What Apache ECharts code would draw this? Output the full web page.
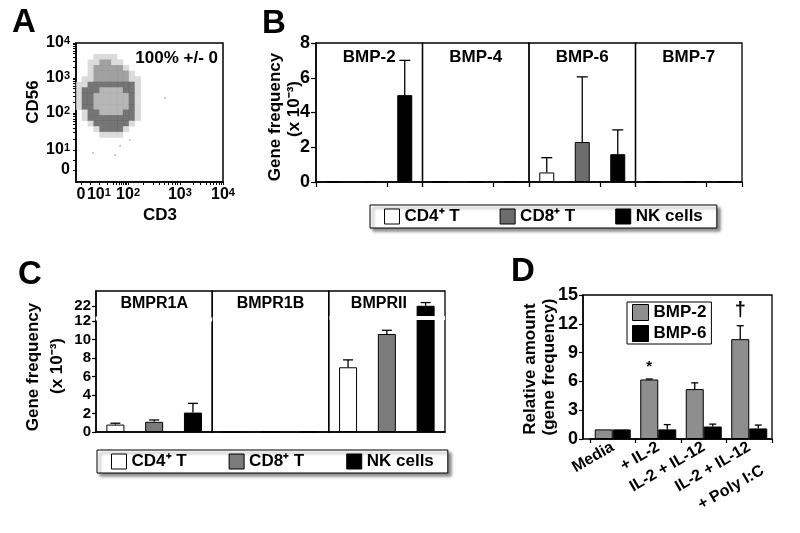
<!DOCTYPE html>
<html><head><meta charset="utf-8">
<script src="https://cdn.jsdelivr.net/npm/echarts@6/dist/echarts.min.js"></script>
<style>html,body{margin:0;padding:0;background:#fff}#c{width:800px;height:533px}</style>
</head><body><div id="c"></div>
<script>
// ================= DATA =================
// Panel A (flow cytometry density, read as coarse cells in axis units 0..100)
const aAxisLabels = ['0', '10{s|1}', '10{s|2}', '10{s|3}', '10{s|4}'];
const aXLabelPos = [3.4, 15.6, 35.4, 70.7, 100];
const aYLabelPos = [8.6, 23.0, 49.6, 74.8, 100];
const aCellX = [2, 6, 10, 14, 18, 22, 26, 30, 34, 38, 42, 46];
const aCellY = [90, 86, 82, 78, 74, 70, 66, 62, 58, 54, 50, 46, 42, 38, 34];
const aDensityRows = [
  '...1111.....',
  '..114411....',
  '..1444441...',
  '..14444441..',
  '.1144444411.',
  '11222222221.',
  '12223333221.',
  '12233333321.',
  '12233333321.',
  '12233333321.',
  '.1223333221.',
  '.1222222221.',
  '..12222221..',
  '...122221...',
  '....1111....'
];
const aOutliers = [[11.6, 20.9], [26.5, 19.4], [36.7, 30.2], [60.5, 60.4], [30, 26]];
const aGateText = '100% +/- 0';

// Panel B
const cellTypes = ['CD4⁺ T', 'CD8⁺ T', 'NK cells'];
const bGenes = ['BMP-2', 'BMP-4', 'BMP-6', 'BMP-7'];
const bCD4 = [0.03, 0.01, 0.55, 0.02];
const bCD8 = [0.04, 0.01, 2.3, 0.03];
const bNK = [5.0, 0.01, 1.6, 0.02];
const bCD4Err = [null, null, 1.4, null];
const bCD8Err = [null, null, 6.05, null];
const bNKErr = [7.0, null, 3.0, null];

// Panel C
const cGenes = ['BMPR1A', 'BMPR1B', 'BMPRII'];
const cCD4 = [0.8, 0.0, 7.0];
const cCD8 = [1.1, 0.03, 10.6];
const cNK = [2.1, 0.03, 22.0];
const cCD4Err = [0.95, null, 7.8];
const cCD8Err = [1.3, null, 11.0];
const cNKErr = [3.1, null, 22.35];
const cYLabels = [0, 2, 4, 6, 8, 10, 12, 22];
const cBreak = {start: 12.1, end: 20.9};

// Panel D
const dConditions = ['Media', '+ IL-2', 'IL-2 + IL-12', 'IL-2 + IL-12\n+ Poly I:C'];
const dSeriesNames = ['BMP-2', 'BMP-6'];
const dBMP2 = [1.0, 6.2, 5.2, 10.4];
const dBMP6 = [1.0, 1.0, 1.3, 1.1];
const dBMP2Err = [null, 6.25, 5.85, 11.8];
const dBMP6Err = [null, 1.5, 1.55, 1.45];
const dMarks = ['', '*', '', '†'];

// ================= STYLE / LAYOUT =================
const FONT = '"Liberation Sans", Arial, Helvetica, sans-serif';
const L = {
  A: {left: 76, top: 43, width: 147, height: 139},
  B: {left: 316, top: 43, width: 426, height: 139},
  C: {left: 96, top: 291, width: 349, height: 141},
  D: {left: 590, top: 295, width: 182, height: 144, frameLeft: 583}
};
const aLevelColors = {1: '#d2d2d2', 2: '#525252', 3: '#a4a4a4', 4: '#8a8a8a'};
const bColors = ['#ffffff', '#6d6d6d', '#000000'];
const cColors = ['#ffffff', '#7b7b7b', '#000000'];
const dColors = ['#8e8e8e', '#000000'];

const grids = [], xAxes = [], yAxes = [], series = [], graphics = [], legends = [];
const lab = (size) => ({fontFamily: FONT, fontWeight: 'bold', fontSize: size, color: '#000'});
const supRich = {s: {fontFamily: FONT, fontWeight: 'bold', fontSize: 11, color: '#000', verticalAlign: 'top', lineHeight: 12}};
function txt(x, y, text, size, rot, align) {
  return {type: 'text', x, y, rotation: rot || 0, z: 100, silent: true,
    style: {text, fill: '#000', font: 'bold ' + size + 'px ' + FONT,
      textAlign: align || 'center', textVerticalAlign: 'middle'}};
}
function errSeries(xi, yi, vals, errs, shift, cap, marks) {
  const data = [];
  vals.forEach((v, i) => { if (errs[i] != null || (marks && marks[i])) data.push([i, v, errs[i] != null ? errs[i] : v, i]); });
  return {type: 'custom', xAxisIndex: xi, yAxisIndex: yi, data, z: 6, silent: true,
    encode: {x: 0, y: [1, 2]},
    renderItem(params, api) {
      const p0 = api.coord([api.value(0), api.value(1)]);
      const p1 = api.coord([api.value(0), api.value(2)]);
      const x = p0[0] + shift;
      const children = [];
      if (errs[api.value(3)] != null) {
        children.push({type: 'line', shape: {x1: x, y1: p0[1], x2: x, y2: p1[1]}, style: {stroke: '#000', lineWidth: 1.3}});
        children.push({type: 'line', shape: {x1: x - cap / 2, y1: p1[1], x2: x + cap / 2, y2: p1[1]}, style: {stroke: '#000', lineWidth: 1.3}});
      }
      const m = marks ? marks[api.value(3)] : '';
      if (m) {
        children.push({type: 'text', x: x, y: p1[1] - 5, style: {text: m, fill: '#000', font: 'bold ' + (m === '*' ? 15 : 20) + 'px ' + FONT, textAlign: 'center', textVerticalAlign: 'bottom'}});
      }
      return {type: 'group', children};
    }};
}
function logTicks(majors) {
  const t = majors.slice();
  t.push((majors[0] + majors[1]) / 2);
  for (let d = 1; d < majors.length - 1; d++) {
    for (let k = 2; k <= 9; k++) t.push(majors[d] + (majors[d + 1] - majors[d]) * Math.log10(k));
  }
  return t.sort((a, b) => a - b);
}
function nearestLabel(positions, v) {
  let bi = 0;
  positions.forEach((p, i) => { if (Math.abs(p - v) < Math.abs(positions[bi] - v)) bi = i; });
  return aAxisLabels[bi];
}

// ================= PANEL A =================
grids.push({left: L.A.left, top: L.A.top, width: L.A.width, height: L.A.height, show: true, borderColor: '#000', borderWidth: 1.5});
let gi0 = grids.length - 1;
xAxes.push({gridIndex: gi0, type: 'value', min: 0, max: 100, splitLine: {show: false},
  axisLine: {show: true, lineStyle: {color: '#000', width: 1.5}},
  axisTick: {show: true, customValues: logTicks(aXLabelPos), length: 3, lineStyle: {color: '#000', width: 1}},
  axisLabel: Object.assign({customValues: aXLabelPos, margin: 5, hideOverlap: false, rich: supRich, formatter: v => nearestLabel(aXLabelPos, v)}, lab(16))});
yAxes.push({gridIndex: gi0, type: 'value', min: 0, max: 100, splitLine: {show: false},
  axisLine: {show: true, lineStyle: {color: '#000', width: 1.5}},
  axisTick: {show: true, customValues: logTicks(aYLabelPos), length: 3, lineStyle: {color: '#000', width: 1}},
  axisLabel: Object.assign({customValues: aYLabelPos, margin: 6, hideOverlap: false, rich: supRich, formatter: v => nearestLabel(aYLabelPos, v)}, lab(16))});
const aCells = [];
aDensityRows.forEach((row, r) => {
  for (let c = 0; c < row.length; c++) {
    const ch = row[c];
    if (ch !== '.' && ch !== ' ') aCells.push([aCellX[c], aCellY[r], +ch]);
  }
});
series.push({type: 'scatter', xAxisIndex: xAxes.length - 1, yAxisIndex: yAxes.length - 1, data: aCells,
  symbol: 'rect', symbolSize: [6.2, 5.9], silent: true,
  itemStyle: {color: p => aLevelColors[p.data[2]]}});
series.push({type: 'scatter', xAxisIndex: xAxes.length - 1, yAxisIndex: yAxes.length - 1, data: aOutliers,
  symbol: 'circle', symbolSize: 2, silent: true, itemStyle: {color: '#aaaaaa'}});
graphics.push(txt(218, 58, aGateText, 17, 0, 'right'));
graphics.push(txt(24, 23, 'A', 33));
graphics.push(txt(33, 102, 'CD56', 17, Math.PI / 2));
graphics.push(txt(160, 215, 'CD3', 17));

// ================= PANEL B =================
const bW = L.B.width / bGenes.length;
bGenes.forEach((gene, gi) => {
  grids.push({left: L.B.left + gi * bW, top: L.B.top, width: bW, height: L.B.height, show: true, borderColor: '#000', borderWidth: 1.3});
  const g = grids.length - 1;
  xAxes.push({gridIndex: g, type: 'category', data: cellTypes, axisLabel: {show: false},
    axisTick: {show: true, length: 5, lineStyle: {color: '#000', width: 1.2}},
    axisLine: {show: true, lineStyle: {color: '#000', width: 1.5}}});
  yAxes.push({gridIndex: g, type: 'value', min: 0, max: 8, interval: 2, show: gi === 0, splitLine: {show: false},
    axisLine: {show: true, lineStyle: {color: '#000', width: 1.5}},
    axisTick: {show: true, length: 5, lineStyle: {color: '#000', width: 1.2}},
    axisLabel: Object.assign({margin: 6}, lab(18))});
  const xi = xAxes.length - 1, yi = yAxes.length - 1;
  const vals = [bCD4[gi], bCD8[gi], bNK[gi]];
  const errs = [bCD4Err[gi], bCD8Err[gi], bNKErr[gi]];
  cellTypes.forEach((ct, k) => {
    series.push({type: 'bar', name: ct, xAxisIndex: xi, yAxisIndex: yi, barWidth: 15, barGap: '-100%', silent: true,
      data: cellTypes.map((_, j) => j === k ? vals[k] : '-'),
      itemStyle: {color: bColors[k], borderColor: '#000', borderWidth: 1}});
  });
  series.push(errSeries(xi, yi, vals, errs, 0, 11));
  graphics.push(txt(L.B.left + (gi + 0.5) * bW, 57, gene, 17));
});
graphics.push(txt(274, 24, 'B', 33));
graphics.push(txt(275, 117, 'Gene frequency', 17, Math.PI / 2));
graphics.push(txt(294, 109, '(x 10⁻³)', 17, Math.PI / 2));
legends.push({left: 370, top: 205, orient: 'horizontal', icon: 'rect', itemWidth: 15, itemHeight: 15, itemGap: 40,
  padding: [3, 14, 3, 14], borderColor: '#000', borderWidth: 1, backgroundColor: '#fff',
  shadowColor: 'rgba(0,0,0,0.45)', shadowBlur: 3, shadowOffsetX: 3, shadowOffsetY: 3,
  textStyle: lab(17), selectedMode: false,
  data: cellTypes.map((n, k) => ({name: n, itemStyle: {color: bColors[k], borderColor: '#000', borderWidth: 1}}))});

// ================= PANEL C =================
const cW = L.C.width / cGenes.length;
cGenes.forEach((gene, gi) => {
  grids.push({left: L.C.left + gi * cW, top: L.C.top, width: cW, height: L.C.height, show: true, borderColor: '#000', borderWidth: 1.3});
  const g = grids.length - 1;
  xAxes.push({gridIndex: g, type: 'category', data: cellTypes, axisLabel: {show: false}, axisTick: {show: false},
    axisLine: {show: true, lineStyle: {color: '#000', width: 1.5}}});
  yAxes.push({gridIndex: g, type: 'value', min: 0, max: 23.6, show: gi === 0, splitLine: {show: false},
    breaks: [{start: cBreak.start, end: cBreak.end, gap: 0.45}],
    breakArea: {show: gi === 0, expandOnClick: false, zigzagAmplitude: 2,
      itemStyle: {color: '#fff', borderColor: '#fff', borderWidth: 0, opacity: 1}},
    breakLabelLayout: {moveOverlap: false},
    axisLine: {show: true, lineStyle: {color: '#000', width: 1.5}},
    axisTick: {show: true, customValues: cYLabels, length: 4, lineStyle: {color: '#000', width: 1.2}},
    axisLabel: Object.assign({customValues: cYLabels, margin: 5, hideOverlap: false, lineHeight: 14}, lab(15))});
  const xi = xAxes.length - 1, yi = yAxes.length - 1;
  const vals = [cCD4[gi], cCD8[gi], cNK[gi]];
  const errs = [cCD4Err[gi], cCD8Err[gi], cNKErr[gi]];
  cellTypes.forEach((ct, k) => {
    const s = {type: 'bar', name: ct, xAxisIndex: xi, yAxisIndex: yi, barWidth: 18, barGap: '-100%', silent: true,
      data: cellTypes.map((_, j) => j === k ? vals[k] : '-'),
      itemStyle: {color: cColors[k], borderColor: '#000', borderWidth: 1}};
    if (k === 2 && vals[k] > cBreak.end) {
      s.markArea = {silent: true, z: 10, itemStyle: {color: '#fff', opacity: 1},
        data: [[{yAxis: cBreak.start}, {yAxis: cBreak.end}]]};
    }
    series.push(s);
  });
  series.push(errSeries(xi, yi, vals, errs, 0, 10));
  graphics.push(txt(L.C.left + (gi + 0.5) * cW - (gi === 2 ? 8 : 0), 304, gene, 16));
  if (gi > 0) graphics.push({type: 'line', z: 100, silent: true,
    shape: {x1: L.C.left + gi * cW, y1: L.C.top, x2: L.C.left + gi * cW, y2: L.C.top + L.C.height},
    style: {stroke: '#000', lineWidth: 1.3}});
});
graphics.push(txt(30, 275, 'C', 33));
graphics.push(txt(33, 367, 'Gene frequency', 17, Math.PI / 2));
graphics.push(txt(57, 366, '(x 10⁻³)', 17, Math.PI / 2));
legends.push({left: 97, top: 450, orient: 'horizontal', icon: 'rect', itemWidth: 15, itemHeight: 15, itemGap: 42,
  padding: [3, 14, 3, 14], borderColor: '#000', borderWidth: 1, backgroundColor: '#fff',
  shadowColor: 'rgba(0,0,0,0.45)', shadowBlur: 3, shadowOffsetX: 3, shadowOffsetY: 3,
  textStyle: lab(17), selectedMode: false,
  data: cellTypes.map((n, k) => ({name: n, itemStyle: {color: cColors[k], borderColor: '#000', borderWidth: 1}}))});

// ================= PANEL D =================
grids.push({left: L.D.left, top: L.D.top, width: L.D.width, height: L.D.height, show: false});
const gD = grids.length - 1;
xAxes.push({gridIndex: gD, type: 'category', data: dConditions,
  axisLabel: Object.assign({interval: 0, rotate: 30, margin: 7, lineHeight: 27, hideOverlap: false,
    formatter: v => v.indexOf('\n') >= 0 ? '\n' + v : v}, lab(16)),
  axisTick: {show: true, length: 4, lineStyle: {color: '#000', width: 1.2}},
  axisLine: {show: true, lineStyle: {color: '#000', width: 1.5}}});
yAxes.push({gridIndex: gD, type: 'value', min: 0, max: 15, interval: 3, offset: L.D.left - L.D.frameLeft, splitLine: {show: false},
  axisLine: {show: true, lineStyle: {color: '#000', width: 1.5}},
  axisTick: {show: true, length: 4, lineStyle: {color: '#000', width: 1.2}},
  axisLabel: Object.assign({margin: 5}, lab(18))});
const dxi = xAxes.length - 1, dyi = yAxes.length - 1;
[dBMP2, dBMP6].forEach((vals, k) => {
  series.push({type: 'bar', name: dSeriesNames[k], xAxisIndex: dxi, yAxisIndex: dyi, barWidth: 18, barGap: '0%', silent: true,
    data: vals, itemStyle: {color: dColors[k], borderColor: '#000', borderWidth: 1}});
});
series.push(errSeries(dxi, dyi, dBMP2, dBMP2Err, -9, 7, dMarks));
series.push(errSeries(dxi, dyi, dBMP6, dBMP6Err, 9, 7));
graphics.push({type: 'rect', z: 50, silent: true,
  shape: {x: L.D.frameLeft, y: L.D.top, width: L.D.left + L.D.width - L.D.frameLeft, height: L.D.height},
  style: {fill: 'none', stroke: '#000', lineWidth: 1.3}});
graphics.push(txt(523, 272, 'D', 33));
graphics.push(txt(530, 369, 'Relative amount', 17, Math.PI / 2));
graphics.push(txt(549, 367, '(gene frequency)', 17, Math.PI / 2));
legends.push({left: 627, top: 302, orient: 'vertical', icon: 'rect', itemWidth: 16, itemHeight: 16, itemGap: 4,
  padding: [2, 5, 2, 5], borderColor: '#000', borderWidth: 1, backgroundColor: '#fff',
  textStyle: lab(17), selectedMode: false,
  data: dSeriesNames.map((n, k) => ({name: n, itemStyle: {color: dColors[k], borderColor: '#000', borderWidth: 1}}))});

const chart = echarts.init(document.getElementById('c'), null, {renderer: 'canvas'});
chart.setOption({
  animation: false,
  backgroundColor: '#fff',
  textStyle: {fontFamily: FONT, color: '#000'},
  tooltip: {show: false},
  grid: grids, xAxis: xAxes, yAxis: yAxes, series, legend: legends,
  graphic: {elements: graphics}
});
</script></body></html>
